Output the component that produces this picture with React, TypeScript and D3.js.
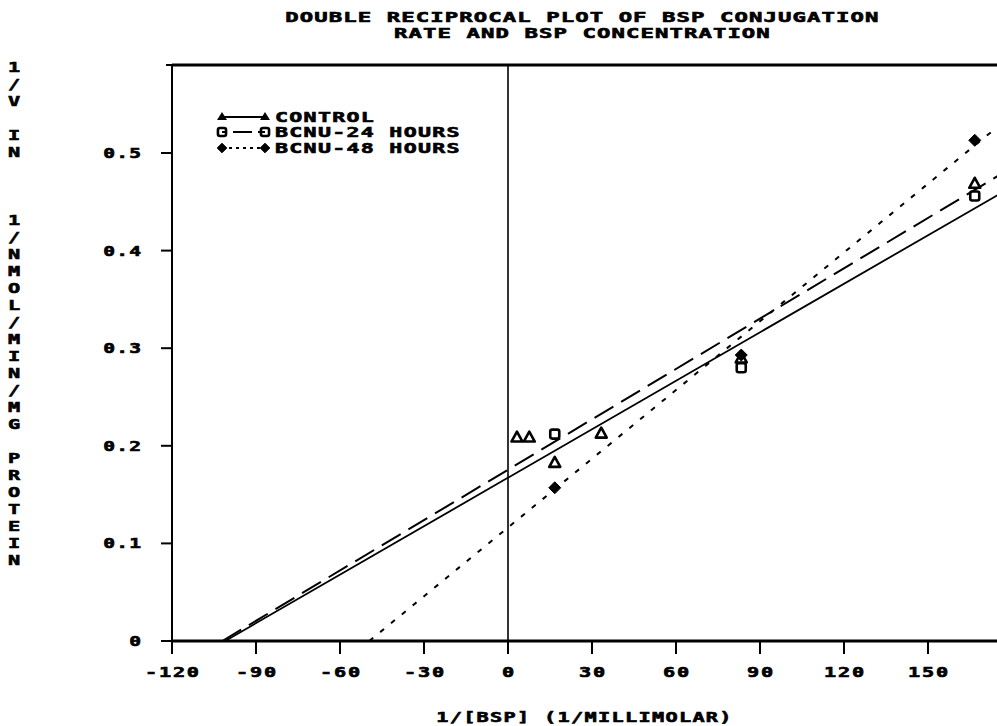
import React from 'react';
import * as d3 from 'd3';

const W = 997;
const H = 726;

const xTicks = [-120, -90, -60, -30, 0, 30, 60, 90, 120, 150];
const yTicks = [0, 0.1, 0.2, 0.3, 0.4, 0.5];
const yTickLabels = ['0', '0.1', '0.2', '0.3', '0.4', '0.5'];

const seriesNames = ['CONTROL', 'BCNU-24 HOURS', 'BCNU-48 HOURS'];

const controlX = [3.2, 7.6, 16.7, 33.3, 83.3, 166.7];
const controlY = [0.209, 0.209, 0.183, 0.213, 0.29, 0.469];
const bcnu24X = [16.7, 83.3, 166.7];
const bcnu24Y = [0.212, 0.28, 0.456];
const bcnu48X = [16.7, 83.3, 166.7];
const bcnu48Y = [0.157, 0.293, 0.513];

// regression lines (slope, intercept) for each series
const fitSlope = [0.001656, 0.00172, 0.002348];
const fitIntercept = [0.1673, 0.1755, 0.1163];

const titleLines = ['DOUBLE RECIPROCAL PLOT OF BSP CONJUGATION', 'RATE AND BSP CONCENTRATION'];
const xLabel = '1/[BSP] (1/MILLIMOLAR)';
const yLabel = '1/V IN   1/NMOL/MIN/MG PROTEIN';

const FONT = "'DejaVu Sans Mono', monospace";
const SIZE = 13.5;

function PText({ x, y, text, anchor = 'start', pitch = 14.5, sx = 1.65 }: any) {
  const adv = 0.602 * SIZE;
  const ls = pitch / sx - adv;
  const width = text.length * pitch - ls * sx;
  let sx0 = x;
  if (anchor === 'middle') sx0 = x - width / 2;
  if (anchor === 'end') sx0 = x - width;
  return (
    <text
      transform={`translate(${sx0},${y}) scale(${sx},1)`}
      fontFamily={FONT}
      fontWeight="bold"
      fontSize={SIZE}
      letterSpacing={ls}
      fill="#000"
      stroke="#000"
      strokeWidth={0.6}
      style={{ whiteSpace: 'pre' }}
    >
      {text}
    </text>
  );
}

function Marker({ kind, x, y, s = 1 }: any) {
  if (kind === 0) {
    const p = d3.path();
    p.moveTo(x, y - 5.5 * s);
    p.lineTo(x + 5.5 * s, y + 4.5 * s);
    p.lineTo(x - 5.5 * s, y + 4.5 * s);
    p.closePath();
    return <path d={p.toString()} fill="none" stroke="#000" strokeWidth={2.6} strokeLinejoin="round" />;
  }
  if (kind === 1) {
    return (
      <rect x={x - 4.5 * s} y={y - 4.5 * s} width={9 * s} height={9 * s} rx={2} fill="none" stroke="#000" strokeWidth={2.6} />
    );
  }
  const p = d3.path();
  p.moveTo(x, y - 6 * s);
  p.lineTo(x + 6 * s, y);
  p.lineTo(x, y + 6 * s);
  p.lineTo(x - 6 * s, y);
  p.closePath();
  return <path d={p.toString()} fill="#000" stroke="#000" strokeWidth={1} />;
}

export default function App() {
  const left = 172;
  const right = 1010;
  const top = 65;
  const bottom = 641;
  const x = d3.scaleLinear().domain([-120, 150]).range([left, 928]);
  const y = d3.scaleLinear().domain([0, 0.5]).range([bottom, 153]);
  const xMax = x.invert(right);

  const series = [
    { xs: controlX, ys: controlY, dash: 'none' },
    { xs: bcnu24X, ys: bcnu24Y, dash: '22 9' },
    { xs: bcnu48X, ys: bcnu48Y, dash: '5 9' },
  ];

  const line = d3
    .line<[number, number]>()
    .x((d) => x(d[0]))
    .y((d) => y(d[1]));

  const legendY = [117, 132, 148];
  const legendDash = ['none', '5 6 14 0', '3 4'];

  return (
    <svg
      width={W}
      height={H}
      style={{ position: 'absolute', left: 0, top: 0, background: '#fff' }}
      xmlns="http://www.w3.org/2000/svg"
    >
      <rect x={0} y={0} width={W} height={H} fill="#fff" />
      {/* title */}
      {titleLines.map((t, i) => (
        <PText key={t} x={582} y={22 + i * 16} text={t} anchor="middle" />
      ))}
      {/* frame */}
      <line x1={left} x2={right} y1={top} y2={top} stroke="#000" strokeWidth={3} />
      <line x1={left} x2={left} y1={top - 1} y2={bottom} stroke="#000" strokeWidth={2} />
      <line x1={left - 6} x2={left} y1={top} y2={top} stroke="#000" strokeWidth={2} />
      <line x1={left} x2={right} y1={bottom} y2={bottom} stroke="#000" strokeWidth={3} />
      <line x1={x(0)} x2={x(0)} y1={top} y2={bottom} stroke="#000" strokeWidth={1.6} />
      {/* y ticks */}
      {yTicks.map((t, i) => (
        <g key={t}>
          <line x1={left - 11} x2={left} y1={y(t)} y2={y(t)} stroke="#000" strokeWidth={2} />
          <PText x={141} y={y(t) + 5} text={yTickLabels[i]} anchor="end" pitch={13} sx={1.45} />
        </g>
      ))}
      {/* x ticks */}
      {xTicks.map((t) => (
        <g key={t}>
          <line x1={x(t)} x2={x(t)} y1={bottom} y2={bottom + 13} stroke="#000" strokeWidth={2} />
          <PText x={x(t)} y={677} text={String(t)} anchor="middle" pitch={14} sx={1.5} />
        </g>
      ))}
      <PText x={584} y={722} text={xLabel} anchor="middle" pitch={13.5} sx={1.5} />
      {/* y label stacked */}
      {yLabel.split('').map((c, i) =>
        c === ' ' ? null : (
          <text
            key={i}
            transform={`translate(14,${72 + i * 17}) scale(1.5,1)`}
            textAnchor="middle"
            fontFamily={FONT}
            fontWeight="bold"
            fontSize={SIZE}
            stroke="#000"
            strokeWidth={0.6}
          >
            {c}
          </text>
        )
      )}
      {/* fit lines */}
      {series.map((s, i) => {
        const x0 = -fitIntercept[i] / fitSlope[i];
        const pts: [number, number][] = [
          [x0, 0],
          [xMax, fitIntercept[i] + fitSlope[i] * xMax],
        ];
        return (
          <path key={i} d={line(pts) || ''} fill="none" stroke="#000" strokeWidth={i === 0 ? 1.8 : 2} strokeDasharray={s.dash} />
        );
      })}
      {/* points */}
      {series.map((s, i) =>
        s.xs.map((v, j) => <Marker key={`${i}-${j}`} kind={i} x={x(v)} y={y(s.ys[j])} />)
      )}
      {/* legend */}
      {seriesNames.map((n, i) => (
        <g key={n}>
          <line x1={222} x2={265} y1={legendY[i]} y2={legendY[i]} stroke="#000" strokeWidth={2} strokeDasharray={legendDash[i]} />
          {i === 0 ? (
            <>
              <path d={`M222,${legendY[i] - 5}L227,${legendY[i] + 3}L217,${legendY[i] + 3}Z`} fill="#000" />
              <path d={`M265,${legendY[i] - 5}L270,${legendY[i] + 3}L260,${legendY[i] + 3}Z`} fill="#000" />
            </>
          ) : (
            <>
              <Marker kind={i} x={222} y={legendY[i]} s={i === 2 ? 0.8 : 0.9} />
              <Marker kind={i} x={265} y={legendY[i]} s={i === 2 ? 0.8 : 0.9} />
            </>
          )}
          <PText x={275} y={legendY[i] + 5} text={n} pitch={14.3} sx={1.6} />
        </g>
      ))}
    </svg>
  );
}
